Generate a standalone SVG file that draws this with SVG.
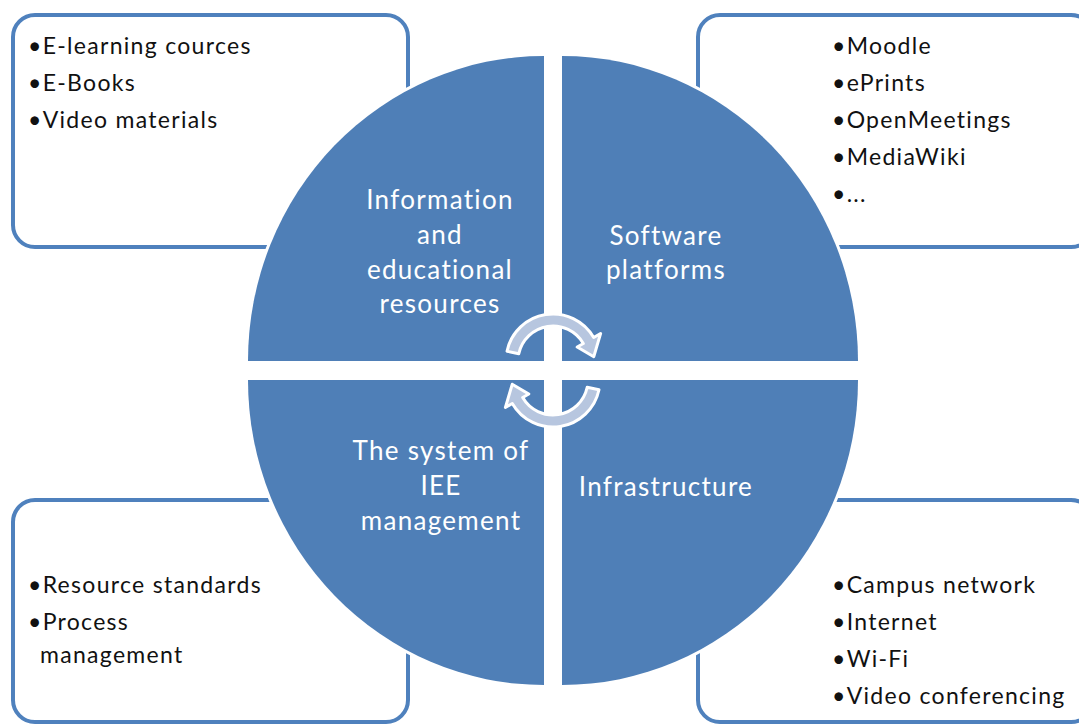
<svg xmlns="http://www.w3.org/2000/svg" width="1079" height="724" viewBox="0 0 1079 724">
<style>
.box{fill:#ffffff;stroke:#4f81bd;stroke-width:4}
.q{fill:#4f7fb7;stroke:#ffffff;stroke-width:6;paint-order:stroke}
.t{font-family:Lato,"Liberation Sans",sans-serif;font-size:23px;letter-spacing:1.3px;fill:#111111}
.w{font-family:Lato,"Liberation Sans",sans-serif;font-size:26px;letter-spacing:1.3px;fill:#ffffff;text-anchor:middle}
.arr{fill:#b7c6df;stroke:#ffffff;stroke-width:3;stroke-linejoin:round}
</style>
<rect width="1079" height="724" fill="#ffffff"/>
<g id="box-resources">
<rect class="box" x="13" y="15" width="395" height="232" rx="22"/>
<text class="t" x="28" y="54">•E-learning cources</text>
<text class="t" x="28" y="91">•E-Books</text>
<text class="t" x="28" y="128">•Video materials</text>
</g>
<g id="box-software">
<rect class="box" x="698" y="15" width="395" height="232" rx="22"/>
<text class="t" x="832" y="54">•Moodle</text>
<text class="t" x="832" y="91">•ePrints</text>
<text class="t" x="832" y="128">•OpenMeetings</text>
<text class="t" x="832" y="165">•MediaWiki</text>
<text class="t" x="832" y="202">•...</text>
</g>
<g id="box-management">
<rect class="box" x="13" y="500" width="395" height="222" rx="22"/>
<text class="t" x="28" y="593">•Resource standards</text>
<text class="t" x="28" y="630">•Process</text>
<text class="t" x="40" y="663">management</text>
</g>
<g id="box-infrastructure">
<rect class="box" x="698" y="500" width="395" height="222" rx="22"/>
<text class="t" x="832" y="593">•Campus network</text>
<text class="t" x="832" y="630">•Internet</text>
<text class="t" x="832" y="667">•Wi-Fi</text>
<text class="t" x="832" y="704">•Video conferencing</text>
</g>
<g id="q-resources">
<path class="q" d="M544,361 L248,361 A296,305 0 0 1 544,56 Z"/>
<text class="w" x="440" y="209">Information</text>
<text class="w" x="440" y="244">and</text>
<text class="w" x="440" y="279">educational</text>
<text class="w" x="440" y="313">resources</text>
</g>
<g id="q-software">
<path class="q" d="M562,361 L562,56 A296,305 0 0 1 858,361 Z"/>
<text class="w" x="666" y="245">Software</text>
<text class="w" x="666" y="279">platforms</text>
</g>
<g id="q-infrastructure">
<path class="q" d="M562,380 L858,380 A296,305 0 0 1 562,685 Z"/>
<text class="w" x="666" y="496">Infrastructure</text>
</g>
<g id="q-management">
<path class="q" d="M544,380 L544,685 A296,305 0 0 1 248,380 Z"/>
<text class="w" x="441" y="460">The system of</text>
<text class="w" x="441" y="495">IEE</text>
<text class="w" x="441" y="530">management</text>
</g>
<g id="connectors">
<path id="arrow-top" class="arr" d="M507.0,351.2 A47,47 0 0 1 593.7,337.5 L600.6,333.5 L593.8,356.7 L577.2,347.0 L583.3,343.5 A35,35 0 0 0 518.8,353.7 Z"/>
<path id="arrow-bottom" class="arr" transform="rotate(180 553 370.5)" d="M507.0,351.2 A47,47 0 0 1 593.7,337.5 L600.6,333.5 L593.8,356.7 L577.2,347.0 L583.3,343.5 A35,35 0 0 0 518.8,353.7 Z"/>
</g>
</svg>
